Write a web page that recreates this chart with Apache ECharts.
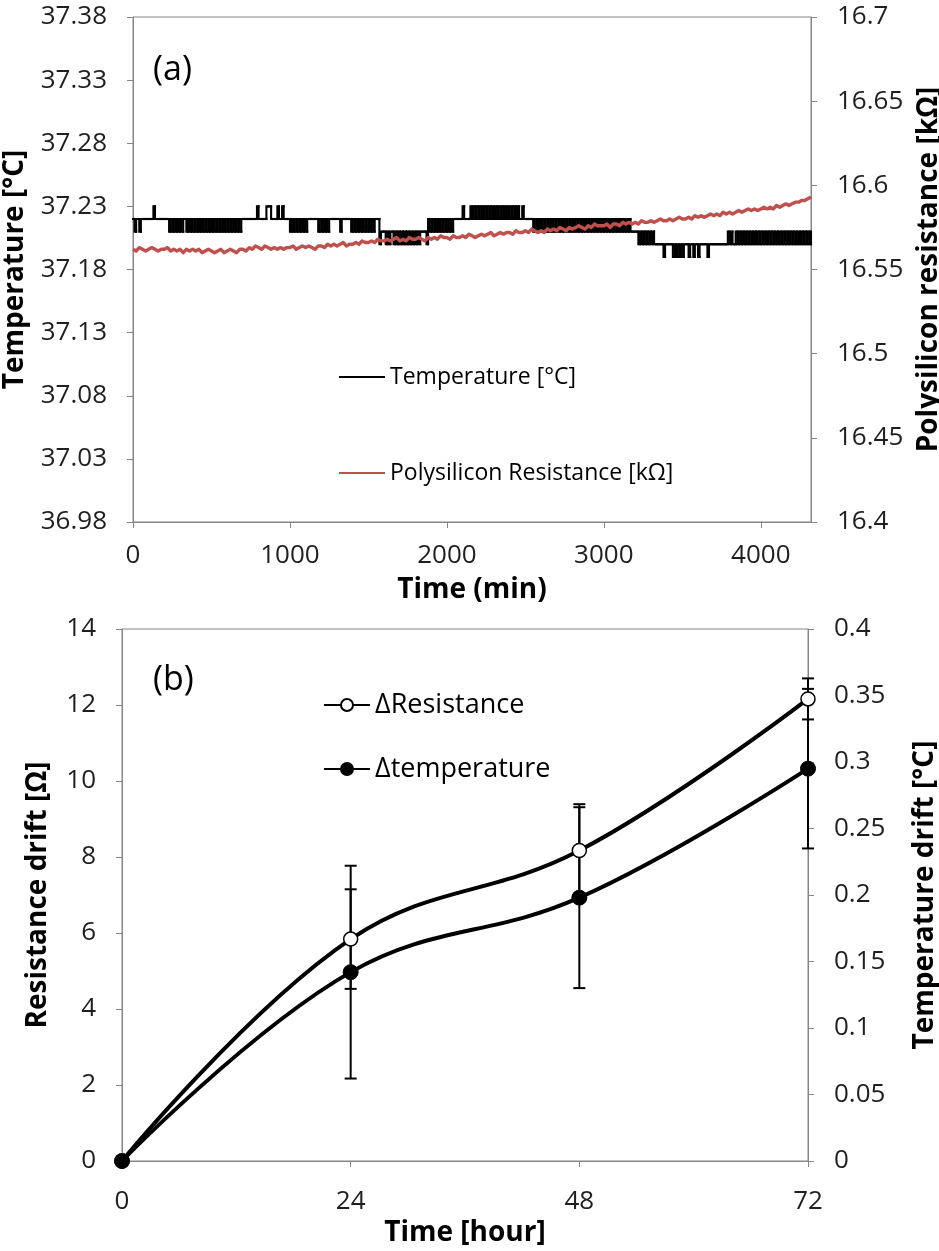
<!DOCTYPE html>
<html>
<head>
<meta charset="utf-8">
<script src="https://cdn.jsdelivr.net/npm/echarts@6/dist/echarts.min.js"></script>
<style>
html,body{margin:0;padding:0;background:#fff;}
#chart{width:939px;height:1251px;}
</style>
</head>
<body>
<div id="chart"></div>
<script>
// ---------------- Panel (a) data ----------------
// Temperature, sampled every 10 min; each row covers 100 min.
// code: '9'=37.19, '0'=37.20, '1'=37.21, '2'=37.22, '3'=37.23
const temperatureRows = [
  "2122122222","2223222222","2221212121","2122121212","1212121212",
  "1212121212","1212121212","2222222223","2222233322","2232232222",
  "1212121212","1222222212","1212122222","2212222221","2121212121",
  "2121222011","1010110101","0101010101","0101111021","2121212121",
  "2121222222","3222232323","2323232323","2323232323","2323232232",
  "2222212121","2121212121","2121212121","2121212121","2121212121",
  "2121212121","2121212111","1101010101","0100000090","0000909090",
  "9000900900","9000009000","0000000001","0100101010","1010101010",
  "1010101010","1010101010","1010101010","101"
];
const temperatureLevels = {"9":37.19,"0":37.20,"1":37.21,"2":37.22,"3":37.23};
const temperatureStepMin = 10;

// Polysilicon resistance, sampled every 20 min, ohms above 16.5 kΩ
const resistanceRows = [
  [62,61,63,62,61,62,63,62,61,62],
  [62,63,61,62,61,62,60,62,61,62],
  [61,62,60,61,62,61,60,61,62,60],
  [61,62,61,60,62,62,61,63,62,64],
  [63,62,64,63,62,63,62,63,62,63],
  [63,64,62,63,64,63,64,63,62,64],
  [64,63,65,64,65,64,65,66,64,65],
  [65,66,65,67,66,66,67,66,68,67],
  [67,68,67,68,69,67,68,67,69,68],
  [68,69,68,67,69,68,69,68,70,69],
  [69,68,70,69,69,70,69,71,70,69],
  [70,71,70,71,72,70,71,72,71,72],
  [72,71,73,72,72,73,72,74,73,72],
  [73,72,74,73,74,73,75,74,73,75],
  [74,75,76,75,74,76,75,77,76,76],
  [76,77,75,77,77,76,78,77,78,77],
  [78,77,79,78,78,79,78,79,80,79],
  [79,80,79,80,81,80,80,81,80,82],
  [81,82,81,82,83,82,83,82,84,83],
  [84,83,84,85,84,85,86,85,86,85],
  [86,87,86,87,86,88,87,88,89,88],
  [89,90,90,91,91,92,93]
];
const resistanceBaseKOhm = 16.5;
const resistanceStepMin = 20;

const timeMinTicks = [0, 1000, 2000, 3000, 4000];
const tempTickLabels = [36.98, 37.03, 37.08, 37.13, 37.18, 37.23, 37.28, 37.33, 37.38];
const resTickLabels = [16.4, 16.45, 16.5, 16.55, 16.6, 16.65, 16.7];

// ---------------- Panel (b) data ----------------
const hours = [0, 24, 48, 72];
const deltaResistance = [0, 5.84, 8.17, 12.16];       // Ω
const deltaResistanceErr = [0, 1.31, 1.22, 0.54];
const deltaTemperature = [0, 0.142, 0.198, 0.295];    // °C
const deltaTemperatureErr = [0, 0.080, 0.068, 0.060];
const hourTicks = [0, 24, 48, 72];
const driftTicks = [0, 2, 4, 6, 8, 10, 12, 14];
const tempDriftTicks = [0, 0.05, 0.1, 0.15, 0.2, 0.25, 0.3, 0.35, 0.4];

// ---------------- build series ----------------
const tempCode = temperatureRows.join('');
const tempData = [];
for (let i = 0; i < tempCode.length; i++) {
  tempData.push([i * temperatureStepMin, temperatureLevels[tempCode[i]]]);
}
// step segments: [time, value, previous value, next time]
const tempSteps = tempData.map((d, i) => [
  d[0], d[1],
  i > 0 ? tempData[i - 1][1] : d[1],
  i < tempData.length - 1 ? tempData[i + 1][0] : d[0]
]);
const resFlat = [].concat(...resistanceRows);
const resData = resFlat.map((v, i) => [i * resistanceStepMin, +(resistanceBaseKOhm + v / 1000).toFixed(4)]);

const drData = hours.map((h, i) => [h, deltaResistance[i]]);
const dtData = hours.map((h, i) => [h, deltaTemperature[i]]);
const drErr = hours.map((h, i) => [h, deltaResistance[i], deltaResistanceErr[i]]);
const dtErr = hours.map((h, i) => [h, deltaTemperature[i], deltaTemperatureErr[i]]);

const FONT = 'Open Sans';
const AX = '#868686';
const LBL = '#1f1f1f';

function errRender(params, api) {
  const x = api.value(0), y = api.value(1), e = api.value(2);
  if (!e) return null;
  const hi = api.coord([x, y + e]);
  const lo = api.coord([x, y - e]);
  const w = 6;
  const st = {stroke: '#000', lineWidth: 2};
  return {
    type: 'group',
    children: [
      {type: 'line', shape: {x1: hi[0], y1: hi[1], x2: lo[0], y2: lo[1]}, style: st},
      {type: 'line', shape: {x1: hi[0] - w, y1: hi[1], x2: hi[0] + w, y2: hi[1]}, style: st},
      {type: 'line', shape: {x1: lo[0] - w, y1: lo[1], x2: lo[0] + w, y2: lo[1]}, style: st}
    ]
  };
}

function stepRender(params, api) {
  const t = api.value(0), v = api.value(1), pv = api.value(2), nt = api.value(3);
  const a = api.coord([t, pv]);
  const b = api.coord([t, v]);
  const c = api.coord([nt, v]);
  return {
    type: 'polyline',
    shape: {points: [a, b, c]},
    style: {stroke: '#000', lineWidth: 2.1, fill: null, lineJoin: 'miter', lineCap: 'square'}
  };
}

function axisBase(extra) {
  return Object.assign({
    type: 'value',
    axisLine: {show: true, lineStyle: {color: AX, width: 1}},
    axisTick: {show: true, inside: false, length: 6, lineStyle: {color: AX}},
    splitLine: {show: false},
    axisLabel: {color: LBL, fontFamily: FONT, fontSize: 26},
    nameLocation: 'middle',
    nameTextStyle: {color: '#000', fontFamily: FONT, fontSize: 28, fontWeight: 'bold', lineHeight: 30}
  }, extra);
}

const chart = echarts.init(document.getElementById('chart'), null, {renderer: 'canvas'});
chart.setOption({
  animation: false,
  backgroundColor: '#fff',
  title: [
    {text: '(a)', left: 148, top: 48, textStyle: {fontFamily: FONT, fontSize: 34, fontWeight: 'normal', color: '#000'}},
    {text: '(b)', left: 148, top: 658, textStyle: {fontFamily: FONT, fontSize: 34, fontWeight: 'normal', color: '#000'}}
  ],
  grid: [
    {left: 133, top: 17, width: 678, height: 505, show: true, borderColor: AX, borderWidth: 1,
     backgroundColor: 'transparent', containLabel: false, outerBoundsMode: 'none'},
    {left: 122, top: 629, width: 686, height: 532, show: true, borderColor: AX, borderWidth: 1,
     backgroundColor: 'transparent', containLabel: false, outerBoundsMode: 'none'}
  ],
  legend: [
    {
      data: ['Temperature [°C]', 'Polysilicon Resistance [kΩ]'],
      orient: 'vertical', left: 334, top: 357, itemWidth: 46, itemHeight: 2, itemGap: 66,
      icon: 'rect',
      textStyle: {fontFamily: FONT, fontSize: 23, color: '#000', lineHeight: 30}
    },
    {
      data: ['ΔResistance', 'Δtemperature'],
      orient: 'vertical', left: 318, top: 683, itemWidth: 46, itemHeight: 15, itemGap: 30,
      textStyle: {fontFamily: FONT, fontSize: 27, color: '#000', lineHeight: 34}
    }
  ],
  xAxis: [
    axisBase({
      gridIndex: 0, min: 0, max: 4320,
      axisLabel: {color: LBL, fontFamily: FONT, fontSize: 26, margin: 21,
                  customValues: timeMinTicks, formatter: v => String(v)},
      axisTick: {show: true, length: 6, lineStyle: {color: AX}, customValues: timeMinTicks},
      name: 'Time (min)', nameGap: 53
    }),
    axisBase({
      gridIndex: 1, min: 0, max: 72,
      axisLabel: {color: LBL, fontFamily: FONT, fontSize: 26, margin: 28,
                  customValues: hourTicks, formatter: v => String(v)},
      axisTick: {show: true, length: 6, lineStyle: {color: AX}, customValues: hourTicks},
      name: 'Time [hour]', nameGap: 57
    })
  ],
  yAxis: [
    axisBase({
      gridIndex: 0, min: 36.98, max: 37.38, position: 'left',
      axisLabel: {color: LBL, fontFamily: FONT, fontSize: 26, margin: 26, customValues: tempTickLabels,
                  formatter: v => (+v).toFixed(2)},
      axisTick: {show: true, length: 6, lineStyle: {color: AX}, customValues: tempTickLabels},
      name: 'Temperature [°C]', nameGap: 97
    }),
    axisBase({
      gridIndex: 0, min: 16.4, max: 16.7, position: 'right',
      axisLabel: {color: LBL, fontFamily: FONT, fontSize: 26, margin: 26, customValues: resTickLabels,
                  formatter: v => String(+(+v).toFixed(2))},
      axisTick: {show: true, length: 6, lineStyle: {color: AX}, customValues: resTickLabels},
      name: 'Polysilicon resistance [kΩ]', nameGap: 92
    }),
    axisBase({
      gridIndex: 1, min: 0, max: 14, position: 'left',
      axisLabel: {color: LBL, fontFamily: FONT, fontSize: 26, margin: 26, customValues: driftTicks,
                  formatter: v => String(v)},
      axisTick: {show: true, length: 6, lineStyle: {color: AX}, customValues: driftTicks},
      name: 'Resistance drift [Ω]', nameGap: 69
    }),
    axisBase({
      gridIndex: 1, min: 0, max: 0.4, position: 'right',
      axisLabel: {color: LBL, fontFamily: FONT, fontSize: 26, margin: 26, customValues: tempDriftTicks,
                  formatter: v => String(+(+v).toFixed(2))},
      axisTick: {show: true, length: 6, lineStyle: {color: AX}, customValues: tempDriftTicks},
      name: 'Temperature drift [°C]', nameGap: 102
    })
  ],
  series: [
    {
      name: 'Temperature [°C]', type: 'custom', xAxisIndex: 0, yAxisIndex: 0,
      data: tempSteps, renderItem: stepRender, z: 2, silent: true,
      encode: {x: [0, 3], y: [1, 2]},
      itemStyle: {color: '#000'}
    },
    {
      name: 'Polysilicon Resistance [kΩ]', type: 'line', xAxisIndex: 0, yAxisIndex: 1,
      data: resData, symbol: 'none', showSymbol: false, z: 3,
      lineStyle: {color: '#C0504D', width: 3.4, join: 'round'}, itemStyle: {color: '#C0504D'}
    },
    {
      type: 'custom', xAxisIndex: 1, yAxisIndex: 2, data: drErr, renderItem: errRender, z: 1,
      encode: {x: 0, y: 1}, silent: true
    },
    {
      type: 'custom', xAxisIndex: 1, yAxisIndex: 3, data: dtErr, renderItem: errRender, z: 1,
      encode: {x: 0, y: 1}, silent: true
    },
    {
      name: 'ΔResistance', type: 'line', xAxisIndex: 1, yAxisIndex: 2, data: drData,
      smooth: 0.4, symbol: 'circle', symbolSize: 14, z: 3,
      lineStyle: {color: '#000', width: 4},
      itemStyle: {color: '#fff', borderColor: '#000', borderWidth: 1.5}
    },
    {
      name: 'Δtemperature', type: 'line', xAxisIndex: 1, yAxisIndex: 3, data: dtData,
      smooth: 0.4, symbol: 'circle', symbolSize: 15, z: 3,
      lineStyle: {color: '#000', width: 4},
      itemStyle: {color: '#000', borderColor: '#000', borderWidth: 1}
    }
  ]
});
</script>
</body>
</html>
